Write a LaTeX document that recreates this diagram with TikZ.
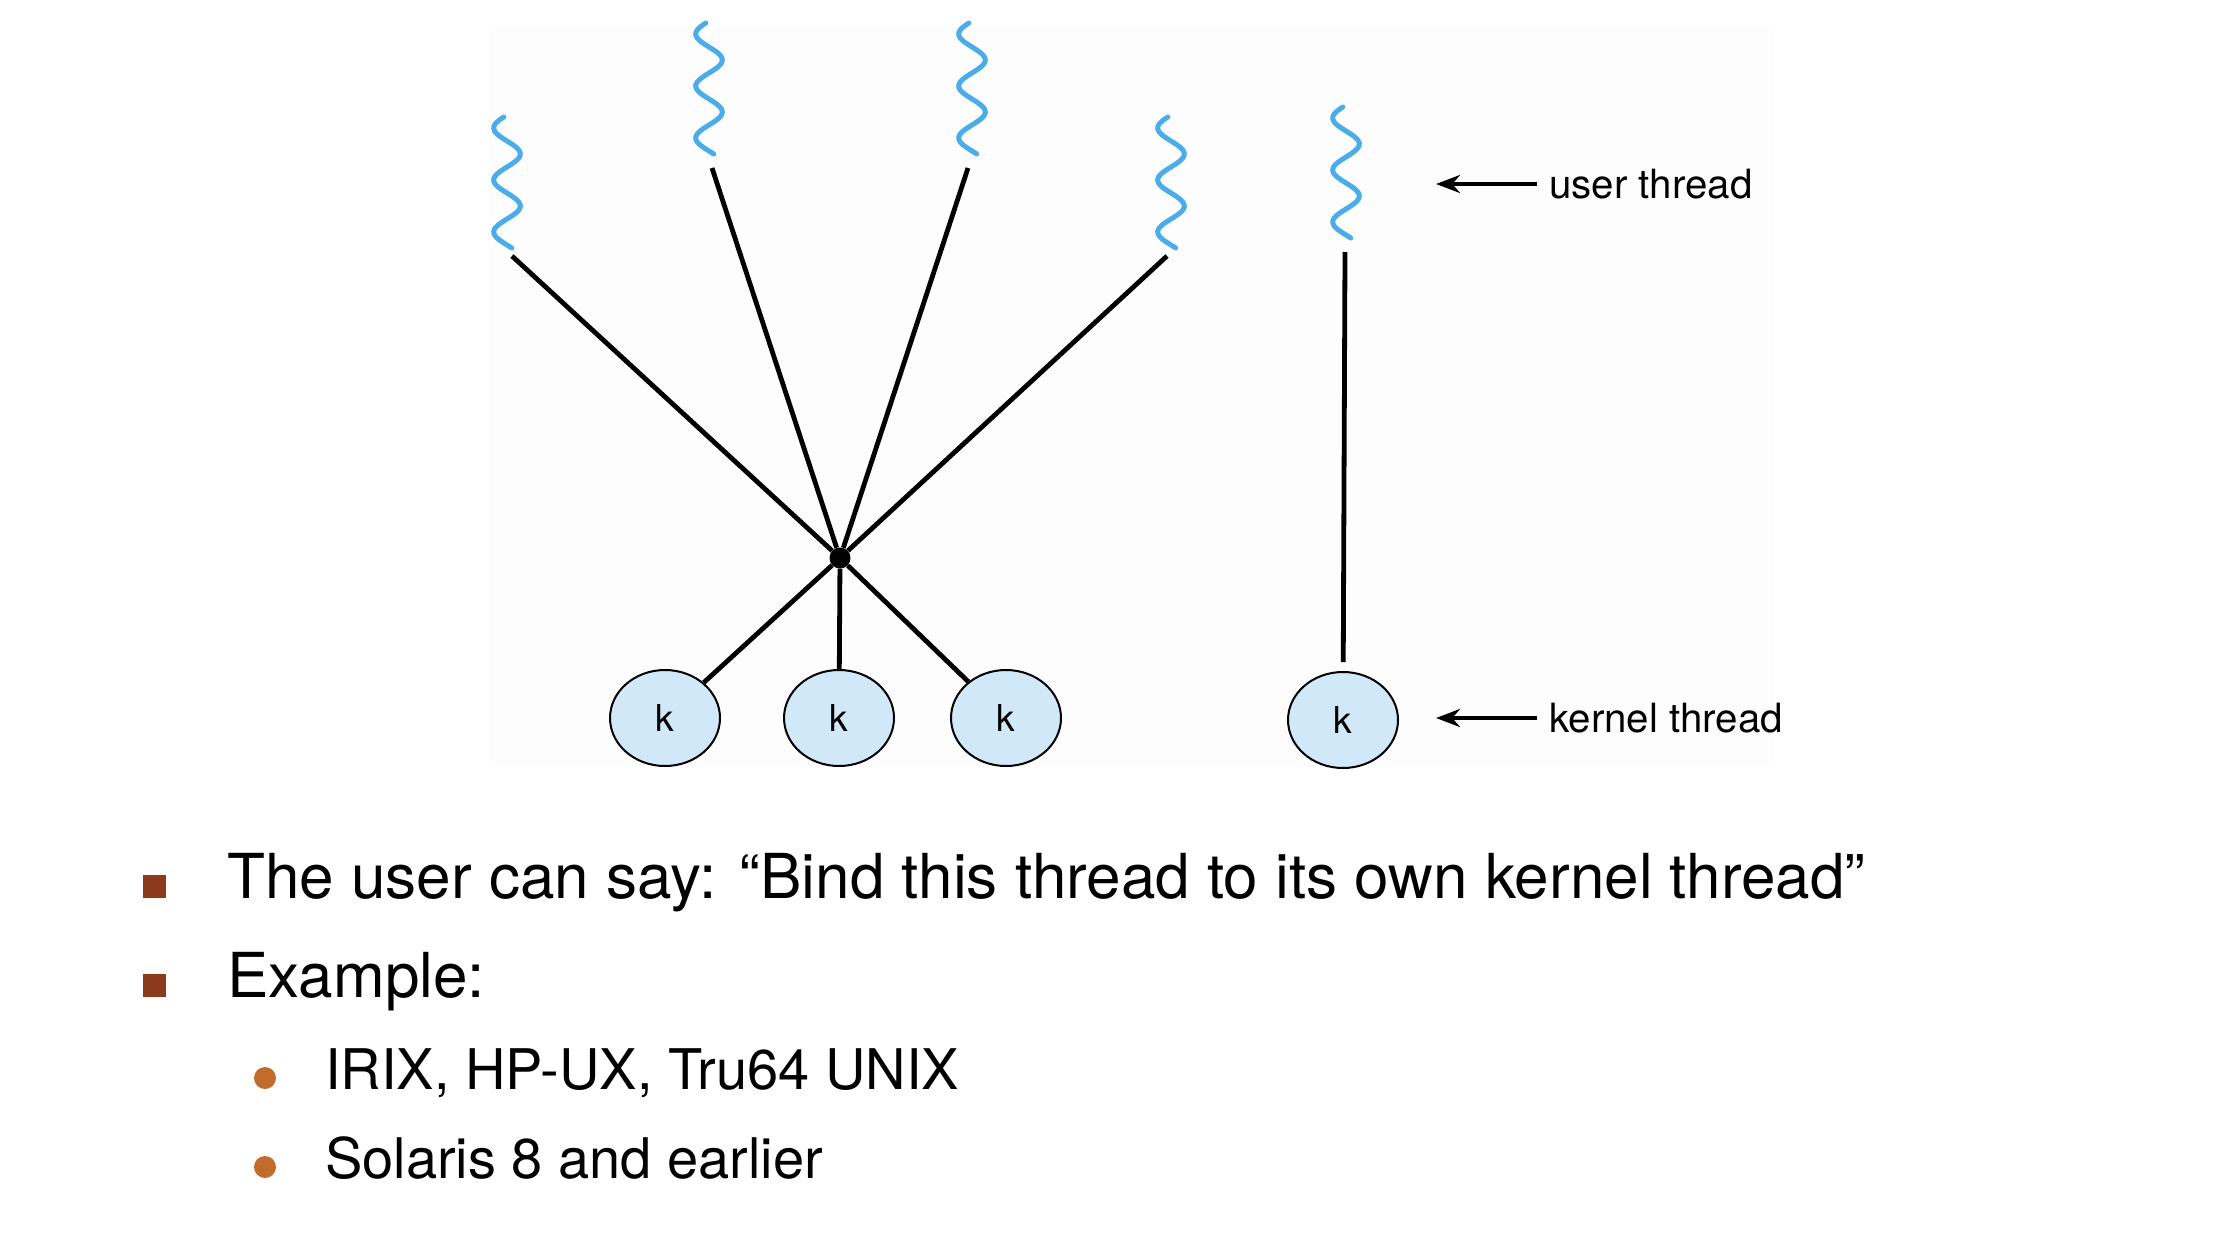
\documentclass[tikz,border=0pt]{standalone}
\usepackage{fontspec}
\setmainfont{TeX Gyre Heros}
\usetikzlibrary{shapes.geometric,arrows.meta}
\definecolor{wavecol}{RGB}{74,172,232}
\definecolor{kfill}{RGB}{208,232,248}
\definecolor{sqbullet}{RGB}{139,58,30}
\definecolor{dotbullet}{RGB}{193,108,43}
\definecolor{figbg}{RGB}{253,253,253}

\begin{document}
\begin{tikzpicture}[
    x=1pt, y=-1pt,
    uwave/.style={wavecol, line width=5pt, line cap=round},
    link/.style={line width=4.8pt},
    kthread/.style={ellipse, draw, line width=2pt, fill=kfill, minimum width=110pt,
        minimum height=96pt, inner sep=0pt, font=\fontsize{37}{40}\selectfont},
    hubdot/.style={circle, fill, inner sep=0pt, minimum size=21pt},
    tag/.style={anchor=west, inner xsep=12pt, inner ysep=0pt, font=\fontsize{40.3}{44}\selectfont},
    tagarrow/.style={line width=4pt, -{Stealth[length=24pt, width=18pt]}},
    point/.style={anchor=base west, inner sep=0pt, font=\fontsize{62}{70}\selectfont},
    subpoint/.style={anchor=base west, inner sep=0pt, font=\fontsize{56}{62}\selectfont},
    sqbox/.style={fill=sqbullet, minimum size=23pt, inner sep=0pt},
    dotbox/.style={circle, fill=dotbullet, minimum size=22pt, inner sep=0pt}
]
% page
\fill[white] (0,0) rectangle (2224,1258);
\useasboundingbox (0,0) rectangle (2224,1258);
\fill[figbg] (489,26) rectangle (1773,766);

% user threads
\foreach \wx/\wy in {507/117, 709/23, 972/23, 1171/117, 1346/107}
    \draw[uwave] plot[domain=0:131, samples=80, smooth]
        ({\wx-13.3*cos(6.923*(\x-11))}, {\wy+\x});

\coordinate (u1) at (512,256);
\coordinate (u2) at (712,168);
\coordinate (u3) at (968,168);
\coordinate (u4) at (1167,256);
\coordinate (u5) at (1345,252);

% kernel threads
\node[kthread] (k1) at (665,718) {k};
\node[kthread] (k2) at (839,718) {k};
\node[kthread] (k3) at (1006,718) {k};
\node[kthread] (k4) at (1343,720) {k};
\node[hubdot] (hub) at (840,558) {};

\foreach \u in {u1,u2,u3,u4}
    \draw[link] (\u) -- (hub);
\foreach \k in {k1,k2,k3}
    \draw[link] (hub) -- (\k);
\draw[link, shorten >=9pt] (u5) -- (k4);

% labels
\coordinate (utip) at (1436,184);
\coordinate (ktip) at (1436,718);
\node[tag] (ulabel) at (1537,184) {user thread};
\node[tag] (klabel) at (1537,718) {kernel thread};
\draw[tagarrow] (ulabel.west) -- (utip);
\draw[tagarrow] (klabel.west) -- (ktip);

% bullets
\node[sqbox] (b1) at (154.5,886.5) {};
\node[point] (l1) at (227,898) {The user can say: “Bind this thread to its own kernel thread”};
\node[sqbox] (b2) at (154.5,985.5) {};
\node[point] (l2) at (227,997) {Example:};
\node[dotbox] (b3) at (265,1078) {};
\node[subpoint] (l3) at (325,1089) {IRIX, HP-UX, Tru64 UNIX};
\node[dotbox] (b4) at (265,1167) {};
\node[subpoint] (l4) at (325,1178) {Solaris 8 and earlier};
\end{tikzpicture}
\end{document}
